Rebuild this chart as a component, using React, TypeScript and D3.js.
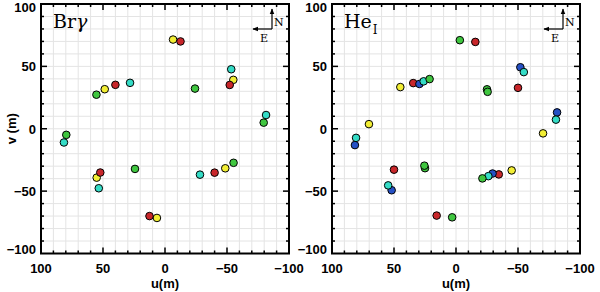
import { useEffect, useRef } from "react";
import * as d3 from "d3";

// Br gamma panel: (u, v) in metres and band colour key
const brgU = [-6.5, -12.5, 6.5, 12.5, 55.3, -55.3, 48.6, -48.6, 40, -40, 28.2, -28.2, -24.2, 24.2, -53.4, 53.4, -55.1, 55.1, -52.2, 52.2, -81.5, 81.5, -79.6, 79.6];
const brgV = [71.5, 70, -71.5, -70, 27.3, -27.3, 31.7, -31.7, 35.2, -35.2, 36.8, -36.8, 32.2, -32.2, 47.7, -47.7, 39.2, -39.2, 35.1, -35.1, 11, -11, 4.9, -4.9];
const brgBand = ["y", "r", "y", "r", "g", "g", "y", "y", "r", "r", "c", "c", "g", "g", "c", "c", "y", "y", "r", "r", "c", "c", "g", "g"];

// He I panel
const heU = [-3.1, 3.1, -15.6, 15.6, 44.9, -44.9, 34.5, -34.5, 29.5, -29.5, 26.1, -26.1, 21.3, -21.3, -25, 25, -25.5, 25.5, -51.9, 51.9, -54.7, 54.7, -50, 50, -81.5, 81.5, -80.6, 80.6, -70.2, 70.2];
const heV = [71, -71, 69.6, -69.6, 33.4, -33.4, 36.6, -36.6, 35.9, -35.9, 38, -38, 39.8, -39.8, 31.6, -31.6, 29.6, -29.6, 49.3, -49.3, 45.4, -45.4, 32.8, -32.8, 13.1, -13.1, 7.3, -7.3, -3.7, 3.7];
const heBand = ["g", "g", "r", "r", "y", "y", "r", "r", "b", "b", "c", "c", "g", "g", "g", "g", "g", "g", "b", "b", "c", "c", "r", "r", "b", "b", "c", "c", "y", "y"];

const xTicks = [100, 50, 0, -50, -100];
const yTicks = [100, 50, 0, -50, -100];

const COLORS: Record<string, string> = {
  r: "#c8262a",
  y: "#f2ee34",
  g: "#3fc63f",
  c: "#34dcc6",
  b: "#2550c4",
};

const App = () => {
  const ref = useRef<SVGSVGElement>(null);

  useEffect(() => {
    const svg = d3.select(ref.current);
    svg.selectAll("*").remove();

    const TOP = 4;
    const BOTTOM = 253.5;
    const PW = 248;

    const panels = [
      { left: 41, u: brgU, v: brgV, band: brgBand, title: "Br", sym: "γ", sub: "" },
      { left: 332, u: heU, v: heV, band: heBand, title: "He", sym: "", sub: "I" },
    ];

    const defs = svg.append("defs");
    defs
      .append("marker")
      .attr("id", "arr")
      .attr("viewBox", "0 0 10 10")
      .attr("refX", 9)
      .attr("refY", 5)
      .attr("markerWidth", 5)
      .attr("markerHeight", 5)
      .attr("orient", "auto")
      .append("path")
      .attr("d", "M0,1 L10,5 L0,9 z")
      .attr("fill", "#000");

    panels.forEach((p) => {
      const x = d3.scaleLinear().domain([100, -100]).range([p.left, p.left + PW]);
      const y = d3.scaleLinear().domain([-100, 100]).range([BOTTOM, TOP]);
      const g = svg.append("g");

      // grid
      const grid = d3.range(-90, 100, 10);
      g.selectAll(".gx")
        .data(grid)
        .enter()
        .append("line")
        .attr("x1", (d) => x(d))
        .attr("x2", (d) => x(d))
        .attr("y1", TOP)
        .attr("y2", BOTTOM)
        .attr("stroke", "#e4e4e4")
        .attr("stroke-width", 1);
      g.selectAll(".gy")
        .data(grid)
        .enter()
        .append("line")
        .attr("y1", (d) => y(d))
        .attr("y2", (d) => y(d))
        .attr("x1", p.left)
        .attr("x2", p.left + PW)
        .attr("stroke", "#e4e4e4")
        .attr("stroke-width", 1);

      // inward ticks on all sides
      const tk = d3.range(-90, 100, 10);
      tk.forEach((t) => {
        const len = t % 50 === 0 ? 6 : 3;
        g.append("line").attr("x1", x(t)).attr("x2", x(t)).attr("y1", BOTTOM).attr("y2", BOTTOM - len).attr("stroke", "#000").attr("stroke-width", 1.5);
        g.append("line").attr("x1", x(t)).attr("x2", x(t)).attr("y1", TOP).attr("y2", TOP + len).attr("stroke", "#000").attr("stroke-width", 1.5);
        g.append("line").attr("y1", y(t)).attr("y2", y(t)).attr("x1", p.left).attr("x2", p.left + len).attr("stroke", "#000").attr("stroke-width", 1.5);
        g.append("line").attr("y1", y(t)).attr("y2", y(t)).attr("x1", p.left + PW).attr("x2", p.left + PW - len).attr("stroke", "#000").attr("stroke-width", 1.5);
      });

      // frame
      g.append("rect")
        .attr("x", p.left)
        .attr("y", TOP)
        .attr("width", PW)
        .attr("height", BOTTOM - TOP)
        .attr("fill", "none")
        .attr("stroke", "#000")
        .attr("stroke-width", 2);

      // tick labels
      g.selectAll(".xl")
        .data(xTicks)
        .enter()
        .append("text")
        .attr("x", (d) => x(d))
        .attr("y", 272.5)
        .attr("text-anchor", "middle")
        .attr("font-family", "Liberation Sans, Arial, sans-serif")
        .attr("font-weight", "bold")
        .attr("font-size", 13)
        .text((d) => (d < 0 ? "\u2212" + Math.abs(d) : String(d)));
      g.selectAll(".yl")
        .data(yTicks)
        .enter()
        .append("text")
        .attr("x", p.left - 5)
        .attr("y", (d) => y(d) + 5 + (d === 100 ? 3 : d === -100 ? -5 : 0))
        .attr("text-anchor", "end")
        .attr("font-family", "Liberation Sans, Arial, sans-serif")
        .attr("font-weight", "bold")
        .attr("font-size", 13)
        .text((d) => (d < 0 ? "\u2212" + Math.abs(d) : String(d)));

      // axis titles
      g.append("text")
        .attr("x", x(0))
        .attr("y", 288)
        .attr("text-anchor", "middle")
        .attr("font-family", "Liberation Sans, Arial, sans-serif")
        .attr("font-weight", "bold")
        .attr("font-size", 13)
        .text("u(m)");
      if (p.left < 100) {
        g.append("text")
          .attr("transform", `translate(16, ${y(0)}) rotate(-90)`)
          .attr("text-anchor", "middle")
          .attr("font-family", "Liberation Sans, Arial, sans-serif")
          .attr("font-weight", "bold")
          .attr("font-size", 13)
          .text("v (m)");
      }

      // panel title
      const t = g
        .append("text")
        .attr("x", p.left + 12)
        .attr("y", 28)
        .attr("font-family", "DejaVu Serif, serif")
        .attr("font-size", 19)
        .text(p.title);
      if (p.sym) t.append("tspan").attr("font-style", "italic").text(p.sym);
      if (p.sub) t.append("tspan").attr("font-size", 12).attr("dy", 6).attr("dx", 1).text(p.sub);

      // compass
      const cx = p.left + PW - 17;
      const cy = 29;
      g.append("line").attr("x1", cx).attr("y1", cy).attr("x2", cx).attr("y2", 9).attr("stroke", "#000").attr("stroke-width", 1.2).attr("marker-end", "url(#arr)");
      g.append("line").attr("x1", cx).attr("y1", cy).attr("x2", cx - 19).attr("y2", cy).attr("stroke", "#000").attr("stroke-width", 1.2).attr("marker-end", "url(#arr)");
      g.append("text").attr("x", cx + 2).attr("y", 26).attr("font-family", "DejaVu Serif, serif").attr("font-size", 11).text("N");
      g.append("text").attr("x", cx - 8).attr("y", 42).attr("text-anchor", "middle").attr("font-family", "DejaVu Serif, serif").attr("font-size", 11).text("E");

      // points
      g.selectAll(".pt")
        .data(p.u.map((u, i) => ({ u, v: p.v[i], b: p.band[i] })))
        .enter()
        .append("circle")
        .attr("cx", (d) => x(d.u))
        .attr("cy", (d) => y(d.v))
        .attr("r", 3.8)
        .attr("fill", (d) => COLORS[d.b])
        .attr("stroke", "#000")
        .attr("stroke-width", 1);
    });
  }, []);

  return (
    <svg
      ref={ref}
      width={600}
      height={292}
      style={{ position: "absolute", left: 0, top: 0, background: "#fff" }}
    />
  );
};

export default App;
